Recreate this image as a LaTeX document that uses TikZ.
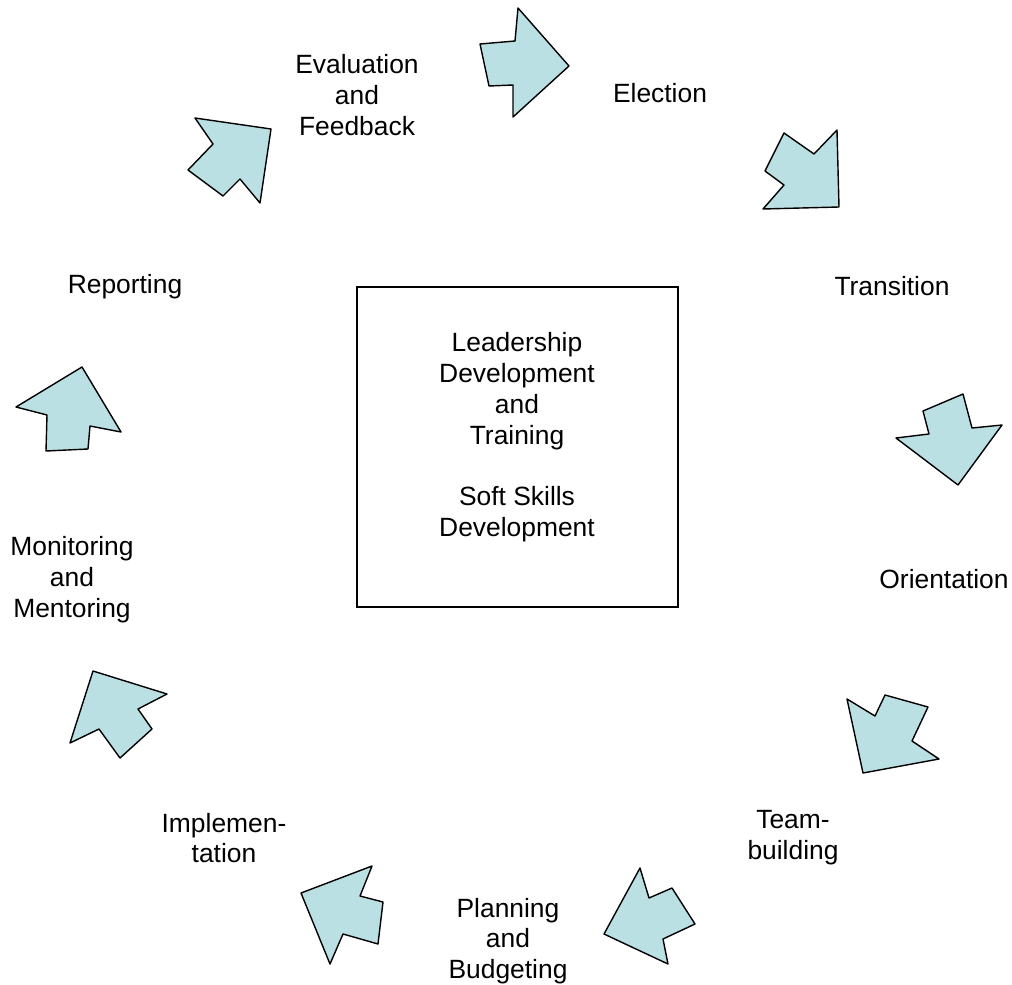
\documentclass[tikz,border=0pt]{standalone}
\usepackage{fontspec}
\setmainfont{Liberation Sans}
\definecolor{arrowfill}{RGB}{187,224,227}
\begin{document}
\begin{tikzpicture}[x=1pt,y=-1pt,
  lbl/.style={align=center,inner sep=0pt,font=\fontsize{26.4}{30.8}\selectfont},
  blockarrow/.style={draw=black,fill=arrowfill,line width=1.4pt,line join=round},
  frame/.style={draw=black,line width=1.3pt,minimum width=321pt,minimum height=320pt,inner sep=0pt}]
\useasboundingbox (0,0) rectangle (1012,985);
% centre box
\node[frame] (box) at (517.5,447) {};
\node[lbl] (core) at (517,437.5) {Leadership\\Development\\and\\Training\\[30.8pt]Soft Skills\\Development};
% labels
\node[lbl] (eval) at (357,95) {Evaluation\\and\\Feedback};
\node[lbl] (elec) at (660,93.5) {Election};
\node[lbl] (trans) at (892,286) {Transition};
\node[lbl] (orient) at (944,579) {Orientation};
\node[lbl] (team) at (793,838) {Team-\\building};
\node[lbl] (plan) at (508,941) {Planning\\and\\Budgeting};
\node[lbl] (impl) at (224,838) {Implemen-\\tation};
\node[lbl] (mon) at (72,579.5) {Monitoring\\and\\Mentoring};
\node[lbl] (rep) at (125,286.5) {Reporting};
% block arrows
\draw[blockarrow] (480,44) -- (515,41) -- (518,8) -- (569,66) -- (513,117) -- (513,85) -- (489,86) -- cycle;
\draw[blockarrow] (784,133) -- (814,154) -- (837,130) -- (839,207) -- (763,209) -- (784,185) -- (765,171) -- cycle;
\draw[blockarrow] (923,411) -- (963,394) -- (972,428) -- (1002,425) -- (958,485) -- (896,438) -- (929,434) -- cycle;
\draw[blockarrow] (847,699) -- (875,716) -- (885,695) -- (928,707) -- (912,741) -- (939,759) -- (863,773) -- cycle;
\draw[blockarrow] (640,868) -- (649,898) -- (672,888) -- (695,924) -- (663,939) -- (668,964) -- (604,934) -- cycle;
\draw[blockarrow] (372,866) -- (360,896) -- (383,902) -- (378,944) -- (343,934) -- (330,964) -- (301,893) -- cycle;
\draw[blockarrow] (93,671) -- (167,694) -- (138,709) -- (152,729) -- (120,758) -- (99,729) -- (70,743) -- cycle;
\draw[blockarrow] (82,367) -- (121,432) -- (90,426) -- (88,449) -- (46,451) -- (47,415) -- (16,407) -- cycle;
\draw[blockarrow] (195,118) -- (271,129) -- (260,203) -- (240,179) -- (223,196) -- (188,170) -- (213,144) -- cycle;
\end{tikzpicture}
\end{document}
